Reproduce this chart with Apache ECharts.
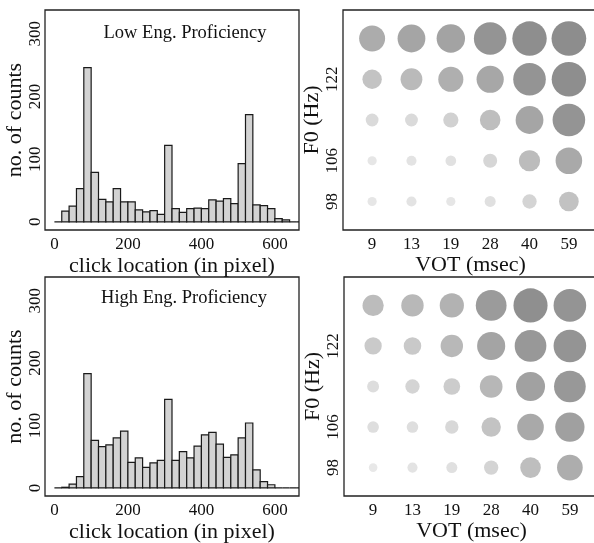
<!DOCTYPE html>
<html>
<head>
<meta charset="utf-8">
<script src="https://cdn.jsdelivr.net/npm/echarts@6/dist/echarts.min.js"></script>
<style>
html,body{margin:0;padding:0;background:#fff;}
#chart{width:594px;height:543px;}
</style>
</head>
<body>
<div id="chart"></div>
<script>
// ---- Data ----
const binWidth = 20;                 // histogram bin width (pixels of click location)
const lowCounts = [0,17,25,53,246,79,36,32,53,32,32,19,16,18,12,122,21,15,21,22,21,35,33,37,29,93,171,27,26,21,5,3,0,0,0];
const highCounts = [0,1,6,18,183,76,66,69,80,91,41,48,33,40,44,142,44,58,48,67,85,89,70,49,53,80,104,29,10,5,0,0,0,0,0];
const histXTicks = [0,200,400,600];
const histYTicks = [0,100,200,300];

const votLabels = ['9','13','19','28','40','59'];
const f0Labels = ['98','106','','122',''];   // rows bottom -> top (only these labels appear)
// response strength per cell, rows bottom -> top, columns VOT 9..59
const lowResp = [
  [0.14,0.17,0.14,0.20,0.31,0.49],
  [0.14,0.17,0.19,0.30,0.54,0.72],
  [0.26,0.26,0.34,0.52,0.76,0.92],
  [0.48,0.56,0.67,0.74,0.92,0.98],
  [0.70,0.76,0.78,0.92,0.98,0.99]
];
const highResp = [
  [0.12,0.17,0.20,0.31,0.52,0.69],
  [0.22,0.22,0.28,0.48,0.72,0.81],
  [0.23,0.31,0.39,0.59,0.80,0.89],
  [0.41,0.42,0.58,0.77,0.89,0.92],
  [0.54,0.58,0.64,0.86,0.97,0.92]
];

// ---- Build ----
const FONT = "'Liberation Serif','Times New Roman',serif";
const TICK = {fontFamily:FONT, fontSize:17, lineHeight:17, color:'#111'};
const NAME = {fontFamily:FONT, fontSize:22, color:'#111'};
function histData(counts){
  return counts.map((c,i)=>[i*binWidth,(i+1)*binWidth,c]);
}
function bubbleData(resp){
  const out=[];
  resp.forEach((row,r)=>row.forEach((v,c)=>out.push([c+1,r+1,v])));
  return out;
}
function renderBar(params, api){
  const p0 = api.coord([api.value(0), api.value(2)]);
  const p1 = api.coord([api.value(1), 0]);
  return {type:'rect', shape:{x:p0[0], y:p0[1], width:p1[0]-p0[0], height:p1[1]-p0[1]},
    style:{fill:'#d3d3d3', stroke:'#1a1a1a', lineWidth:1.2}};
}
const grids = [
  {left:45, top:10, width:254, height:220},
  {left:45, top:277, width:254, height:219},
  {left:343, top:10, width:255, height:220},
  {left:344, top:277, width:255, height:219}
];
grids.forEach(g=>{g.show=true; g.borderColor='#222'; g.borderWidth=1.3; g.backgroundColor='#fff';
  g.containLabel=false; g.outerBoundsMode='none';});

function histX(gi){
  return {type:'value', gridIndex:gi, min:-25.6, max:665.6,
    name:'click location (in pixel)', nameLocation:'middle', nameGap:25, nameTextStyle:NAME,
    axisLine:{show:false}, axisTick:{show:false}, splitLine:{show:false},
    axisLabel:Object.assign({customValues:histXTicks, margin:6}, TICK)};
}
function histY(gi){
  return {type:'value', gridIndex:gi, min:-13, max:338,
    name:'no. of counts', nameLocation:'middle', nameGap:18, nameTextStyle:NAME,
    axisLine:{show:false}, axisTick:{show:false}, splitLine:{show:false},
    axisLabel:Object.assign({customValues:histYTicks, rotate:90, margin:1}, TICK)};
}
function bubX(gi){
  return {type:'value', gridIndex:gi, min:0.26, max:6.74,
    name:'VOT (msec)', nameLocation:'middle', nameGap:24, nameTextStyle:NAME,
    axisLine:{show:false}, axisTick:{show:false}, splitLine:{show:false},
    axisLabel:Object.assign({customValues:votLabels.map((_,i)=>i+1),
      formatter:v=>votLabels[Math.round(v)-1], margin:6}, TICK)};
}
function bubY(gi){
  const vals=[]; f0Labels.forEach((l,i)=>{ if(l) vals.push(i+1); });
  return {type:'value', gridIndex:gi, min:0.3, max:5.7,
    name:'F0 (Hz)', nameLocation:'middle', nameGap:18, nameTextStyle:NAME,
    axisLine:{show:false}, axisTick:{show:false}, splitLine:{show:false},
    axisLabel:Object.assign({customValues:vals, formatter:v=>f0Labels[Math.round(v)-1],
      rotate:90, margin:1.5}, TICK)};
}
function bubSeries(resp, gi){
  return {type:'scatter', xAxisIndex:gi, yAxisIndex:gi, data:bubbleData(resp),
    symbolSize:d=>5+30*d[2],
    itemStyle:{color:p=>{const g=Math.round(245-105*p.data[2]); return 'rgb('+g+','+g+','+g+')';}, opacity:1},
    silent:true, animation:false};
}

const chart = echarts.init(document.getElementById('chart'), null, {renderer:'canvas'});
chart.setOption({
  animation:false,
  backgroundColor:'#fff',
  grid:grids,
  xAxis:[histX(0), histX(1), bubX(2), bubX(3)],
  yAxis:[histY(0), histY(1), bubY(2), bubY(3)],
  graphic:[
    {type:'text', x:185, y:33, style:{text:'Low Eng. Proficiency', font:'18.5px '+FONT, fill:'#111', align:'center', verticalAlign:'middle'}},
    {type:'text', x:184, y:298, style:{text:'High Eng. Proficiency', font:'18.5px '+FONT, fill:'#111', align:'center', verticalAlign:'middle'}}
  ],
  series:[
    {type:'custom', xAxisIndex:0, yAxisIndex:0, data:histData(lowCounts), renderItem:renderBar, clip:true, silent:true},
    {type:'custom', xAxisIndex:1, yAxisIndex:1, data:histData(highCounts), renderItem:renderBar, clip:true, silent:true},
    bubSeries(lowResp,2),
    bubSeries(highResp,3)
  ]
});
</script>
</body>
</html>
